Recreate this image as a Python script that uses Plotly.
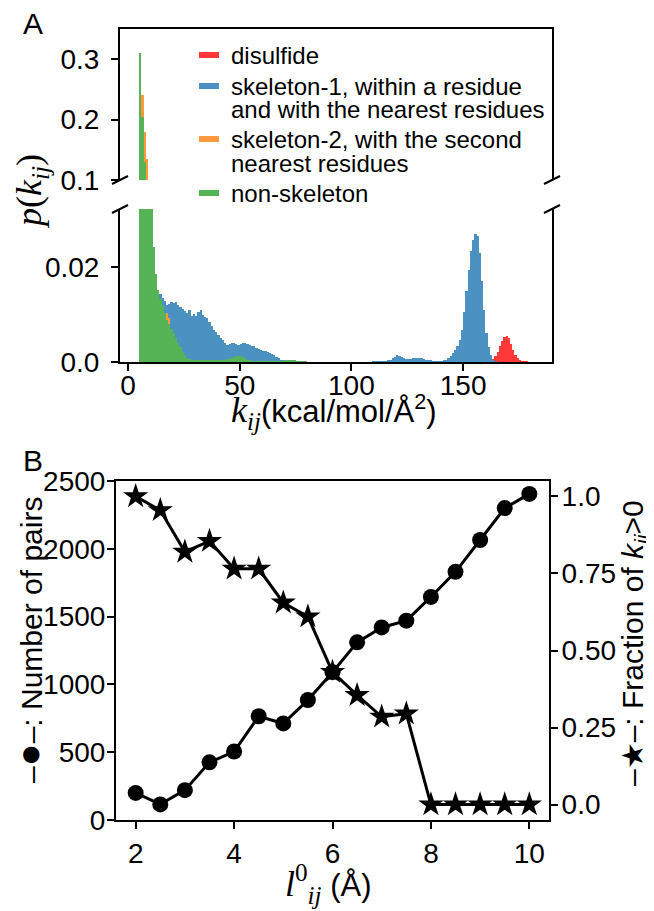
import plotly.graph_objects as go

W, H = 654, 911
OFF = 8  # the page body margin in front of the figure
FW, FH = W - OFF, H - OFF

# ---------------- panel A: p(k_ij), histogram bins of width 1 ----------------
BIN = 1.0

disulfide_start = 162
disulfide_p = [0.0002, 0.0006, 0.0012, 0.0022, 0.0034, 0.0045, 0.0052, 0.0055, 0.0050, 0.0038,
               0.0025, 0.0014, 0.0008, 0.0004, 0.0002, 0.0001, 0.0001]

skeleton1_start = 5
skeleton1_p = [
    0.0040, 0.0060, 0.0080, 0.0100, 0.0110, 0.0120, 0.0130, 0.0135, 0.0140, 0.0143,  # 5-14
    0.0135, 0.0128, 0.0121, 0.0123, 0.0126, 0.0124, 0.0127, 0.0120, 0.0117, 0.0112,  # 15-24
    0.0108, 0.0104, 0.0110, 0.0098, 0.0102, 0.0097, 0.0105, 0.0109, 0.0100, 0.0096,  # 25-34
    0.0093, 0.0085, 0.0076, 0.0068, 0.0063, 0.0057, 0.0051, 0.0046, 0.0040, 0.0036,  # 35-44
    0.0038, 0.0041, 0.0040, 0.0037, 0.0036, 0.0038, 0.0040, 0.0041, 0.0039, 0.0035,  # 45-54
    0.0033, 0.0033, 0.0030, 0.0028, 0.0026, 0.0024, 0.0023, 0.0022, 0.0019, 0.0017,  # 55-64
    0.0015, 0.0011, 0.0008, 0.0005, 0.0003, 0.0002, 0.0002, 0.0003, 0.0005, 0.0004,  # 65-74
    0.0002, 0.0001, 0.0001, 0.0001, 0.0001, 0.0, 0.0, 0.0, 0.0, 0.0,  # 75-84
    0.0, 0.0, 0.0, 0.0, 0.0, 0.0, 0.0, 0.0, 0.0, 0.0,  # 85-94
    0.0, 0.0, 0.0, 0.0, 0.0, 0.0, 0.0, 0.0, 0.0, 0.0,  # 95-104
    0.0, 0.0, 0.0, 0.0, 0.0001, 0.0001, 0.0001, 0.0001, 0.0002, 0.0002,  # 105-114
    0.0002, 0.0003, 0.0005, 0.0008, 0.0011, 0.0014, 0.0013, 0.0010, 0.0008, 0.0007,  # 115-124
    0.0007, 0.0007, 0.0008, 0.0008, 0.0009, 0.0009, 0.0008, 0.0007, 0.0005, 0.0004,  # 125-134
    0.0003, 0.0002, 0.0001, 0.0001, 0.0001, 0.0001, 0.0003, 0.0005, 0.0008, 0.0012,  # 135-144
    0.0019, 0.0026, 0.0034, 0.0046, 0.0068, 0.0105, 0.0150, 0.0195, 0.0235, 0.0258,  # 145-154
    0.0270, 0.0266, 0.0230, 0.0170, 0.0110, 0.0062, 0.0032, 0.0014, 0.0005, 0.0002,  # 155-164
]

skeleton2_start = 5
skeleton2_p = [
    0.22, 0.24, 0.18, 0.135, 0.07, 0.035, 0.018, 0.012, 0.0105, 0.0098,  # 5-14
    0.0092, 0.0088, 0.0103, 0.0092, 0.0060, 0.0035, 0.0020, 0.0012, 0.0008, 0.0005,  # 15-24
    0.0003, 0.0002, 0.0001,
]

nonskeleton_start = 5
nonskeleton_p = [
    0.31, 0.205, 0.13, 0.082, 0.055, 0.038, 0.0243, 0.0185, 0.0152, 0.0132,  # 5-14
    0.0118, 0.0104, 0.0089, 0.0080, 0.0070, 0.0062, 0.0051, 0.0041, 0.0031, 0.0021,  # 15-24
    0.0014, 0.0009, 0.0006, 0.0004, 0.0003, 0.0003, 0.0003, 0.0003, 0.0003, 0.0003,  # 25-34
    0.0003, 0.0003, 0.0003, 0.0003, 0.0003, 0.0004, 0.0004, 0.0005, 0.0005, 0.0006,  # 35-44
    0.0007, 0.0009, 0.0011, 0.0012, 0.0013, 0.0013, 0.0011, 0.0008, 0.0005, 0.0003,  # 45-54
    0.0002, 0.0002, 0.0002, 0.0002, 0.0002, 0.0002, 0.0002, 0.0002, 0.0002, 0.0002,  # 55-64
    0.0002, 0.0002, 0.0002, 0.0002, 0.0002, 0.0003, 0.0003, 0.0004, 0.0004, 0.0003,  # 65-74
    0.0002, 0.0002, 0.0001, 0.0001, 0.0001,
]

series_labels = ['disulfide',
                 ['skeleton-1, within a residue', 'and with the nearest residues'],
                 ['skeleton-2, with the second', 'nearest residues'],
                 'non-skeleton']

# ---------------- panel B ----------------
l0 = [2, 2.5, 3, 3.5, 4, 4.5, 5, 5.5, 6, 6.5, 7, 7.5, 8, 8.5, 9, 9.5, 10]
n_pairs = [200, 115, 220, 425, 505, 765, 712, 885, 1090, 1310, 1420, 1470, 1645, 1830, 2065, 2300, 2405]
frac_pos = [1.0, 0.955, 0.82, 0.855, 0.765, 0.765, 0.655, 0.61, 0.43, 0.355, 0.285, 0.295,
            0.0, 0.0, 0.0, 0.0, 0.0]

COLORS = {
    'red': '#ff3838',
    'blue': '#4b92c3',
    'orange': '#ff993e',
    'green': '#56b356',
}

SANS = 'Liberation Sans, Arial, sans-serif'
SERIF = 'Liberation Serif'
TICKFONT = dict(family=SANS, size=28, color='black')


def px_x(p):
    return (p - OFF) / FW


def px_y(p):
    return 1 - (p - OFF) / FH


def hist_trace(start, values, color, xa, ya):
    centers = [start + BIN * (i + 0.5) for i in range(len(values))]
    return go.Bar(
        x=centers, y=values, width=BIN,
        marker=dict(color=color, line=dict(width=0)),
        xaxis=xa, yaxis=ya, showlegend=False, hoverinfo='x+y',
    )


hist_data = [
    (disulfide_start, disulfide_p, COLORS['red']),
    (skeleton1_start, skeleton1_p, COLORS['blue']),
    (skeleton2_start, skeleton2_p, COLORS['orange']),
    (nonskeleton_start, nonskeleton_p, COLORS['green']),
]

traces = []
for xa, ya in (('x', 'y'), ('x2', 'y2')):
    for start, values, color in hist_data:
        traces.append(hist_trace(start, values, color, xa, ya))

traces.append(go.Scatter(
    x=l0, y=n_pairs, mode='lines+markers',
    line=dict(color='black', width=3),
    marker=dict(symbol='circle', size=16, color='black'),
    xaxis='x3', yaxis='y3', showlegend=False,
))
traces.append(go.Scatter(
    x=l0, y=frac_pos, mode='lines+markers',
    line=dict(color='black', width=3),
    marker=dict(symbol='star', size=19, color='black'),
    xaxis='x3', yaxis='y4', showlegend=False,
))

# pixel boxes of the axes (page pixels)
A_L, A_R = 120, 552
A_UP_T, A_UP_B = 29, 180
A_LO_T, A_LO_B = 209, 362
B_L, B_R = 116, 549
B_T, B_B = 481, 820

K_RANGE = [-3.6, 189.8]

axis_common = dict(
    showgrid=False, zeroline=False, linecolor='black', linewidth=2,
    ticks='outside', ticklen=7, tickwidth=2, tickcolor='black',
    tickfont=TICKFONT, automargin=False,
)

layout = go.Layout(
    width=FW, height=FH, autosize=False,
    margin=dict(l=0, r=0, t=0, b=0),
    paper_bgcolor='white', plot_bgcolor='white',
    barmode='overlay', bargap=0,
    xaxis=dict(axis_common, domain=[px_x(A_L), px_x(A_R)], range=K_RANGE, anchor='y',
               side='top', showline=True, ticks='', showticklabels=False),
    yaxis=dict(axis_common, domain=[px_y(A_UP_B), px_y(A_UP_T)], range=[0.1, 0.35], anchor='x',
               showline=True, mirror=True, tickvals=[0.1, 0.2, 0.3], ticktext=['0.1', '0.2', '0.3'],
               ticklabelstandoff=6),
    xaxis2=dict(axis_common, domain=[px_x(A_L), px_x(A_R)], range=K_RANGE, anchor='y2',
                showline=True, tickvals=[0, 50, 100, 150], ticklabelstandoff=-10),
    yaxis2=dict(axis_common, domain=[px_y(A_LO_B), px_y(A_LO_T)], range=[0, 0.0323], anchor='x2',
                showline=True, mirror=True, tickvals=[0, 0.02], ticktext=['0.0', '0.02'],
                ticklabelstandoff=6),
    xaxis3=dict(axis_common, domain=[px_x(B_L), px_x(B_R)], range=[1.6, 10.4], anchor='y3',
                showline=True, mirror=True, tickvals=[2, 4, 6, 8, 10]),
    yaxis3=dict(axis_common, domain=[px_y(B_B), px_y(B_T)], range=[0, 2500], anchor='x3',
                showline=True, tickvals=[0, 500, 1000, 1500, 2000, 2500], ticklabelstandoff=-4),
    yaxis4=dict(axis_common, range=[-0.05, 1.05], anchor='x3', overlaying='y3', side='right',
                showline=True, tickvals=[0, 0.25, 0.5, 0.75, 1.0],
                ticktext=['0.0', '0.25', '0.50', '0.75', '1.0'], ticklabelstandoff=-2),
)

fig = go.Figure(data=traces, layout=layout)

# broken-axis marks
for xp in (A_L, A_R):
    for yp in (A_UP_B, A_LO_T):
        fig.add_shape(type='line', xref='paper', yref='paper',
                      x0=px_x(xp - 8), y0=px_y(yp + 4), x1=px_x(xp + 8), y1=px_y(yp - 4),
                      line=dict(color='black', width=2))

# legend for panel A
legend_rows = [(55, COLORS['red']), (86, COLORS['blue']), (139, COLORS['orange']), (193, COLORS['green'])]
line_gap = 24
for (yp, color), label in zip(legend_rows, series_labels):
    fig.add_shape(type='rect', xref='paper', yref='paper',
                  x0=px_x(199), x1=px_x(219), y0=px_y(yp + 3), y1=px_y(yp - 3),
                  fillcolor=color, line=dict(width=0))
    lines = label if isinstance(label, list) else [label]
    for j, txt in enumerate(lines):
        fig.add_annotation(text=txt, xref='paper', yref='paper', x=px_x(229), y=px_y(yp + j * line_gap),
                           xanchor='left', yanchor='middle', showarrow=False,
                           font=dict(family=SANS, size=24, color='black'))


def label(text, xp, yp, size=30, angle=0, family=SANS):
    fig.add_annotation(text=text, xref='paper', yref='paper', x=px_x(xp), y=px_y(yp),
                       xanchor='center', yanchor='middle', showarrow=False, textangle=angle,
                       font=dict(family=family, size=size, color='black'))


label('A', 33, 24, size=30)
label('B', 33, 461, size=30)
label('<i>p</i>(<i>k<sub>ij</sub></i>)', 32, 192, size=36, angle=-90, family=SERIF)
label('<span style="font-family:Liberation Serif;font-size:36px"><i>k<sub>ij</sub></i></span>'
      '(kcal/mol/Å<sup>2</sup>)', 334, 412, size=31)
label('–<span style="font-size:38px">●</span>–: Number of pairs', 29, 640, size=30, angle=-90)
label('–★–: Fraction of <i>k<sub>ij</sub></i>&gt;0', 634, 643, size=30, angle=-90)
label('<span style="font-family:Liberation Serif;font-size:36px"><i>l</i><sup>0</sup><sub><i>ij</i></sub></span>'
      ' (Å)', 328, 884, size=31)

fig.write_html("out.html")
